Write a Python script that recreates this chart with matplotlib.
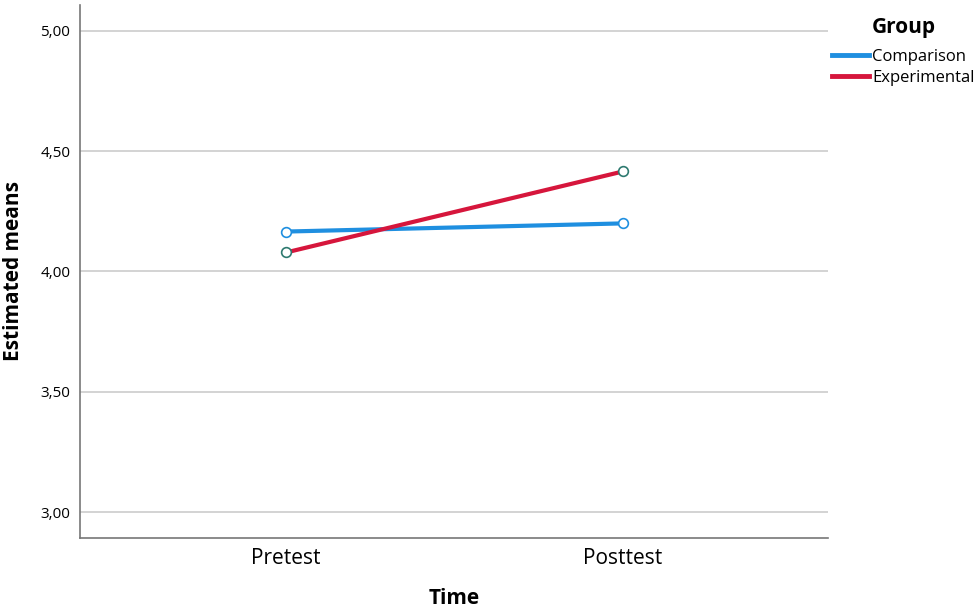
import matplotlib.pyplot as plt

time_points = ["Pretest", "Posttest"]
comparison = [4.166, 4.200]
experimental = [4.079, 4.416]
y_ticks = [3.0, 3.5, 4.0, 4.5, 5.0]
y_tick_labels = ["3,00", "3,50", "4,00", "4,50", "5,00"]

plt.rcParams["font.family"] = ["Open Sans", "DejaVu Sans"]

fig = plt.figure(figsize=(9.78, 6.15), dpi=100)
ax = fig.add_axes([0.0818, 0.1252, 0.7648, 0.8667])

x = list(range(len(time_points)))
ax.plot(x, comparison, color="#1f8fe0", linewidth=3, marker="o", markersize=7,
        markerfacecolor="white", markeredgecolor="#1f8fe0", markeredgewidth=1.2,
        label="Comparison", zorder=3)
ax.plot(x, experimental, color="#d6163c", linewidth=3, marker="o", markersize=7,
        markerfacecolor="white", markeredgecolor="#2e7a70", markeredgewidth=1.2,
        label="Experimental", zorder=3)

ax.set_xlim(-0.611, 1.608)
ax.set_ylim(2.892, 5.108)
ax.set_xticks(x)
ax.set_xticklabels(time_points, fontsize=15)
ax.set_yticks(y_ticks)
ax.set_yticklabels(y_tick_labels, fontsize=11)
ax.tick_params(length=0, pad=7)
ax.tick_params(axis="x", pad=7)
ax.grid(axis="y", color="#cccccc", linewidth=1.2)
ax.set_axisbelow(True)

for side in ["top", "right"]:
    ax.spines[side].set_visible(False)
for side in ["left", "bottom"]:
    ax.spines[side].set_color("#777777")
    ax.spines[side].set_linewidth(1.2)

ax.set_xlabel("Time", fontsize=15, fontweight="bold", labelpad=14)
ax.set_ylabel("Estimated means", fontsize=15, fontweight="bold", labelpad=12)

leg = ax.legend(title="Group", loc="upper left", bbox_to_anchor=(0.99, 1.0),
                frameon=False, fontsize=12, handlelength=2.2, handletextpad=0.2,
                labelspacing=0.3, borderaxespad=0.3)
leg.get_title().set_fontsize(15)
leg.get_title().set_fontweight("bold")
leg._legend_box.sep = 8
for line in leg.get_lines():
    line.set_marker("")
    line.set_linewidth(3.5)

fig.savefig("out.png", dpi=100)
